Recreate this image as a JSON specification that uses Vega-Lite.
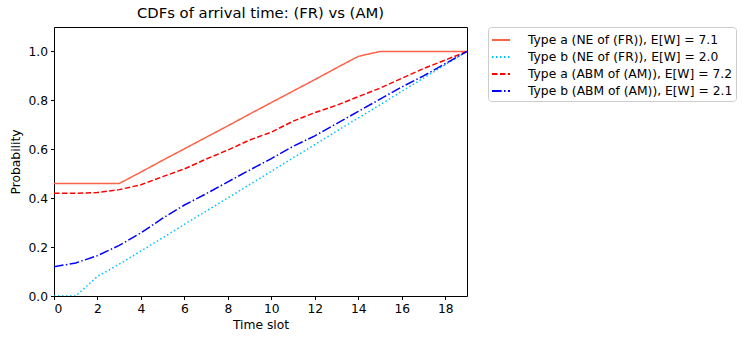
{
  "$schema": "https://vega.github.io/schema/vega-lite/v6.json",
  "width": 413,
  "height": 269,
  "autosize": {"type": "none"},
  "padding": {"left": 54, "top": 27, "right": 281, "bottom": 46},
  "title": {"text": "CDFs of arrival time: (FR) vs (AM)", "font": "DejaVu Sans", "fontSize": 14.8, "fontWeight": "normal", "color": "black", "offset": 6},
  "config": {
    "view": {"stroke": "black", "strokeWidth": 1},
    "font": "DejaVu Sans",
    "axis": {"grid": false, "domain": false, "tickColor": "black", "tickSize": 3.5, "labelColor": "black", "labelFontSize": 12.3, "titleFontSize": 12.3, "titleFontWeight": "normal", "titleColor": "black", "labelFont": "DejaVu Sans", "titleFont": "DejaVu Sans", "labelPadding": 3}
  },
  "data": {"values": [
    {"t": 0, "s": "Type a (NE of (FR)), E[W] = 7.1", "p": 0.46},
    {"t": 1, "s": "Type a (NE of (FR)), E[W] = 7.1", "p": 0.46},
    {"t": 2, "s": "Type a (NE of (FR)), E[W] = 7.1", "p": 0.46},
    {"t": 3, "s": "Type a (NE of (FR)), E[W] = 7.1", "p": 0.46},
    {"t": 4, "s": "Type a (NE of (FR)), E[W] = 7.1", "p": 0.507},
    {"t": 5, "s": "Type a (NE of (FR)), E[W] = 7.1", "p": 0.555},
    {"t": 6, "s": "Type a (NE of (FR)), E[W] = 7.1", "p": 0.602},
    {"t": 7, "s": "Type a (NE of (FR)), E[W] = 7.1", "p": 0.649},
    {"t": 8, "s": "Type a (NE of (FR)), E[W] = 7.1", "p": 0.696},
    {"t": 9, "s": "Type a (NE of (FR)), E[W] = 7.1", "p": 0.744},
    {"t": 10, "s": "Type a (NE of (FR)), E[W] = 7.1", "p": 0.791},
    {"t": 11, "s": "Type a (NE of (FR)), E[W] = 7.1", "p": 0.838},
    {"t": 12, "s": "Type a (NE of (FR)), E[W] = 7.1", "p": 0.885},
    {"t": 13, "s": "Type a (NE of (FR)), E[W] = 7.1", "p": 0.933},
    {"t": 14, "s": "Type a (NE of (FR)), E[W] = 7.1", "p": 0.98},
    {"t": 15, "s": "Type a (NE of (FR)), E[W] = 7.1", "p": 1.0},
    {"t": 16, "s": "Type a (NE of (FR)), E[W] = 7.1", "p": 1.0},
    {"t": 17, "s": "Type a (NE of (FR)), E[W] = 7.1", "p": 1.0},
    {"t": 18, "s": "Type a (NE of (FR)), E[W] = 7.1", "p": 1.0},
    {"t": 19, "s": "Type a (NE of (FR)), E[W] = 7.1", "p": 1.0},
    {"t": 0, "s": "Type b (NE of (FR)), E[W] = 2.0", "p": 0.0},
    {"t": 1, "s": "Type b (NE of (FR)), E[W] = 2.0", "p": 0.0},
    {"t": 2, "s": "Type b (NE of (FR)), E[W] = 2.0", "p": 0.08},
    {"t": 3, "s": "Type b (NE of (FR)), E[W] = 2.0", "p": 0.13},
    {"t": 4, "s": "Type b (NE of (FR)), E[W] = 2.0", "p": 0.184},
    {"t": 5, "s": "Type b (NE of (FR)), E[W] = 2.0", "p": 0.238},
    {"t": 6, "s": "Type b (NE of (FR)), E[W] = 2.0", "p": 0.293},
    {"t": 7, "s": "Type b (NE of (FR)), E[W] = 2.0", "p": 0.347},
    {"t": 8, "s": "Type b (NE of (FR)), E[W] = 2.0", "p": 0.401},
    {"t": 9, "s": "Type b (NE of (FR)), E[W] = 2.0", "p": 0.456},
    {"t": 10, "s": "Type b (NE of (FR)), E[W] = 2.0", "p": 0.51},
    {"t": 11, "s": "Type b (NE of (FR)), E[W] = 2.0", "p": 0.565},
    {"t": 12, "s": "Type b (NE of (FR)), E[W] = 2.0", "p": 0.619},
    {"t": 13, "s": "Type b (NE of (FR)), E[W] = 2.0", "p": 0.674},
    {"t": 14, "s": "Type b (NE of (FR)), E[W] = 2.0", "p": 0.728},
    {"t": 15, "s": "Type b (NE of (FR)), E[W] = 2.0", "p": 0.782},
    {"t": 16, "s": "Type b (NE of (FR)), E[W] = 2.0", "p": 0.837},
    {"t": 17, "s": "Type b (NE of (FR)), E[W] = 2.0", "p": 0.891},
    {"t": 18, "s": "Type b (NE of (FR)), E[W] = 2.0", "p": 0.946},
    {"t": 19, "s": "Type b (NE of (FR)), E[W] = 2.0", "p": 1.0},
    {"t": 0, "s": "Type a (ABM of (AM)), E[W] = 7.2", "p": 0.42},
    {"t": 1, "s": "Type a (ABM of (AM)), E[W] = 7.2", "p": 0.42},
    {"t": 2, "s": "Type a (ABM of (AM)), E[W] = 7.2", "p": 0.423},
    {"t": 3, "s": "Type a (ABM of (AM)), E[W] = 7.2", "p": 0.435},
    {"t": 4, "s": "Type a (ABM of (AM)), E[W] = 7.2", "p": 0.455},
    {"t": 5, "s": "Type a (ABM of (AM)), E[W] = 7.2", "p": 0.488},
    {"t": 6, "s": "Type a (ABM of (AM)), E[W] = 7.2", "p": 0.52},
    {"t": 7, "s": "Type a (ABM of (AM)), E[W] = 7.2", "p": 0.56},
    {"t": 8, "s": "Type a (ABM of (AM)), E[W] = 7.2", "p": 0.597},
    {"t": 9, "s": "Type a (ABM of (AM)), E[W] = 7.2", "p": 0.638},
    {"t": 10, "s": "Type a (ABM of (AM)), E[W] = 7.2", "p": 0.67},
    {"t": 11, "s": "Type a (ABM of (AM)), E[W] = 7.2", "p": 0.715},
    {"t": 12, "s": "Type a (ABM of (AM)), E[W] = 7.2", "p": 0.75},
    {"t": 13, "s": "Type a (ABM of (AM)), E[W] = 7.2", "p": 0.78},
    {"t": 14, "s": "Type a (ABM of (AM)), E[W] = 7.2", "p": 0.815},
    {"t": 15, "s": "Type a (ABM of (AM)), E[W] = 7.2", "p": 0.85},
    {"t": 16, "s": "Type a (ABM of (AM)), E[W] = 7.2", "p": 0.89},
    {"t": 17, "s": "Type a (ABM of (AM)), E[W] = 7.2", "p": 0.93},
    {"t": 18, "s": "Type a (ABM of (AM)), E[W] = 7.2", "p": 0.965},
    {"t": 19, "s": "Type a (ABM of (AM)), E[W] = 7.2", "p": 1.0},
    {"t": 0, "s": "Type b (ABM of (AM)), E[W] = 2.1", "p": 0.12},
    {"t": 1, "s": "Type b (ABM of (AM)), E[W] = 2.1", "p": 0.135},
    {"t": 2, "s": "Type b (ABM of (AM)), E[W] = 2.1", "p": 0.165},
    {"t": 3, "s": "Type b (ABM of (AM)), E[W] = 2.1", "p": 0.207},
    {"t": 4, "s": "Type b (ABM of (AM)), E[W] = 2.1", "p": 0.258},
    {"t": 5, "s": "Type b (ABM of (AM)), E[W] = 2.1", "p": 0.318},
    {"t": 6, "s": "Type b (ABM of (AM)), E[W] = 2.1", "p": 0.372},
    {"t": 7, "s": "Type b (ABM of (AM)), E[W] = 2.1", "p": 0.418},
    {"t": 8, "s": "Type b (ABM of (AM)), E[W] = 2.1", "p": 0.467},
    {"t": 9, "s": "Type b (ABM of (AM)), E[W] = 2.1", "p": 0.515},
    {"t": 10, "s": "Type b (ABM of (AM)), E[W] = 2.1", "p": 0.562},
    {"t": 11, "s": "Type b (ABM of (AM)), E[W] = 2.1", "p": 0.612},
    {"t": 12, "s": "Type b (ABM of (AM)), E[W] = 2.1", "p": 0.655},
    {"t": 13, "s": "Type b (ABM of (AM)), E[W] = 2.1", "p": 0.705},
    {"t": 14, "s": "Type b (ABM of (AM)), E[W] = 2.1", "p": 0.755},
    {"t": 15, "s": "Type b (ABM of (AM)), E[W] = 2.1", "p": 0.805},
    {"t": 16, "s": "Type b (ABM of (AM)), E[W] = 2.1", "p": 0.855},
    {"t": 17, "s": "Type b (ABM of (AM)), E[W] = 2.1", "p": 0.9},
    {"t": 18, "s": "Type b (ABM of (AM)), E[W] = 2.1", "p": 0.95},
    {"t": 19, "s": "Type b (ABM of (AM)), E[W] = 2.1", "p": 1.0}
  ]},
  "mark": {"type": "line", "strokeWidth": 1.5, "clip": true},
  "encoding": {
    "x": {"field": "t", "type": "quantitative", "scale": {"domain": [0, 19], "nice": false, "zero": false}, "axis": {"title": "Time slot", "values": [0, 2, 4, 6, 8, 10, 12, 14, 16, 18], "titlePadding": 4}},
    "y": {"field": "p", "type": "quantitative", "scale": {"domain": [0, 1.1], "nice": false}, "axis": {"title": "Probability", "values": [0, 0.2, 0.4, 0.6, 0.8, 1.0], "format": ".1f", "titlePadding": 5}},
    "color": {"field": "s", "type": "nominal", "scale": {"domain": ["Type a (NE of (FR)), E[W] = 7.1", "Type b (NE of (FR)), E[W] = 2.0", "Type a (ABM of (AM)), E[W] = 7.2", "Type b (ABM of (AM)), E[W] = 2.1"], "range": ["#ff6347", "#00bfff", "#ff0000", "#0000ff"]},
      "legend": {"title": null, "orient": "none", "legendX": 434, "legendY": 0, "symbolType": "stroke", "symbolStrokeWidth": 2, "symbolSize": 324, "labelFontSize": 12.3, "labelOffset": 17, "labelColor": "black", "labelFont": "DejaVu Sans", "rowPadding": 0, "padding": 3, "strokeColor": "#cccccc", "cornerRadius": 3, "fillColor": "white", "labelLimit": 300}},
    "strokeDash": {"field": "s", "type": "nominal", "scale": {"domain": ["Type a (NE of (FR)), E[W] = 7.1", "Type b (NE of (FR)), E[W] = 2.0", "Type a (ABM of (AM)), E[W] = 7.2", "Type b (ABM of (AM)), E[W] = 2.1"], "range": [[1, 0], [1.5, 2.5], [5.5, 2.4], [9.6, 2.4, 1.5, 2.4]]}, "legend": null}
  }
}
